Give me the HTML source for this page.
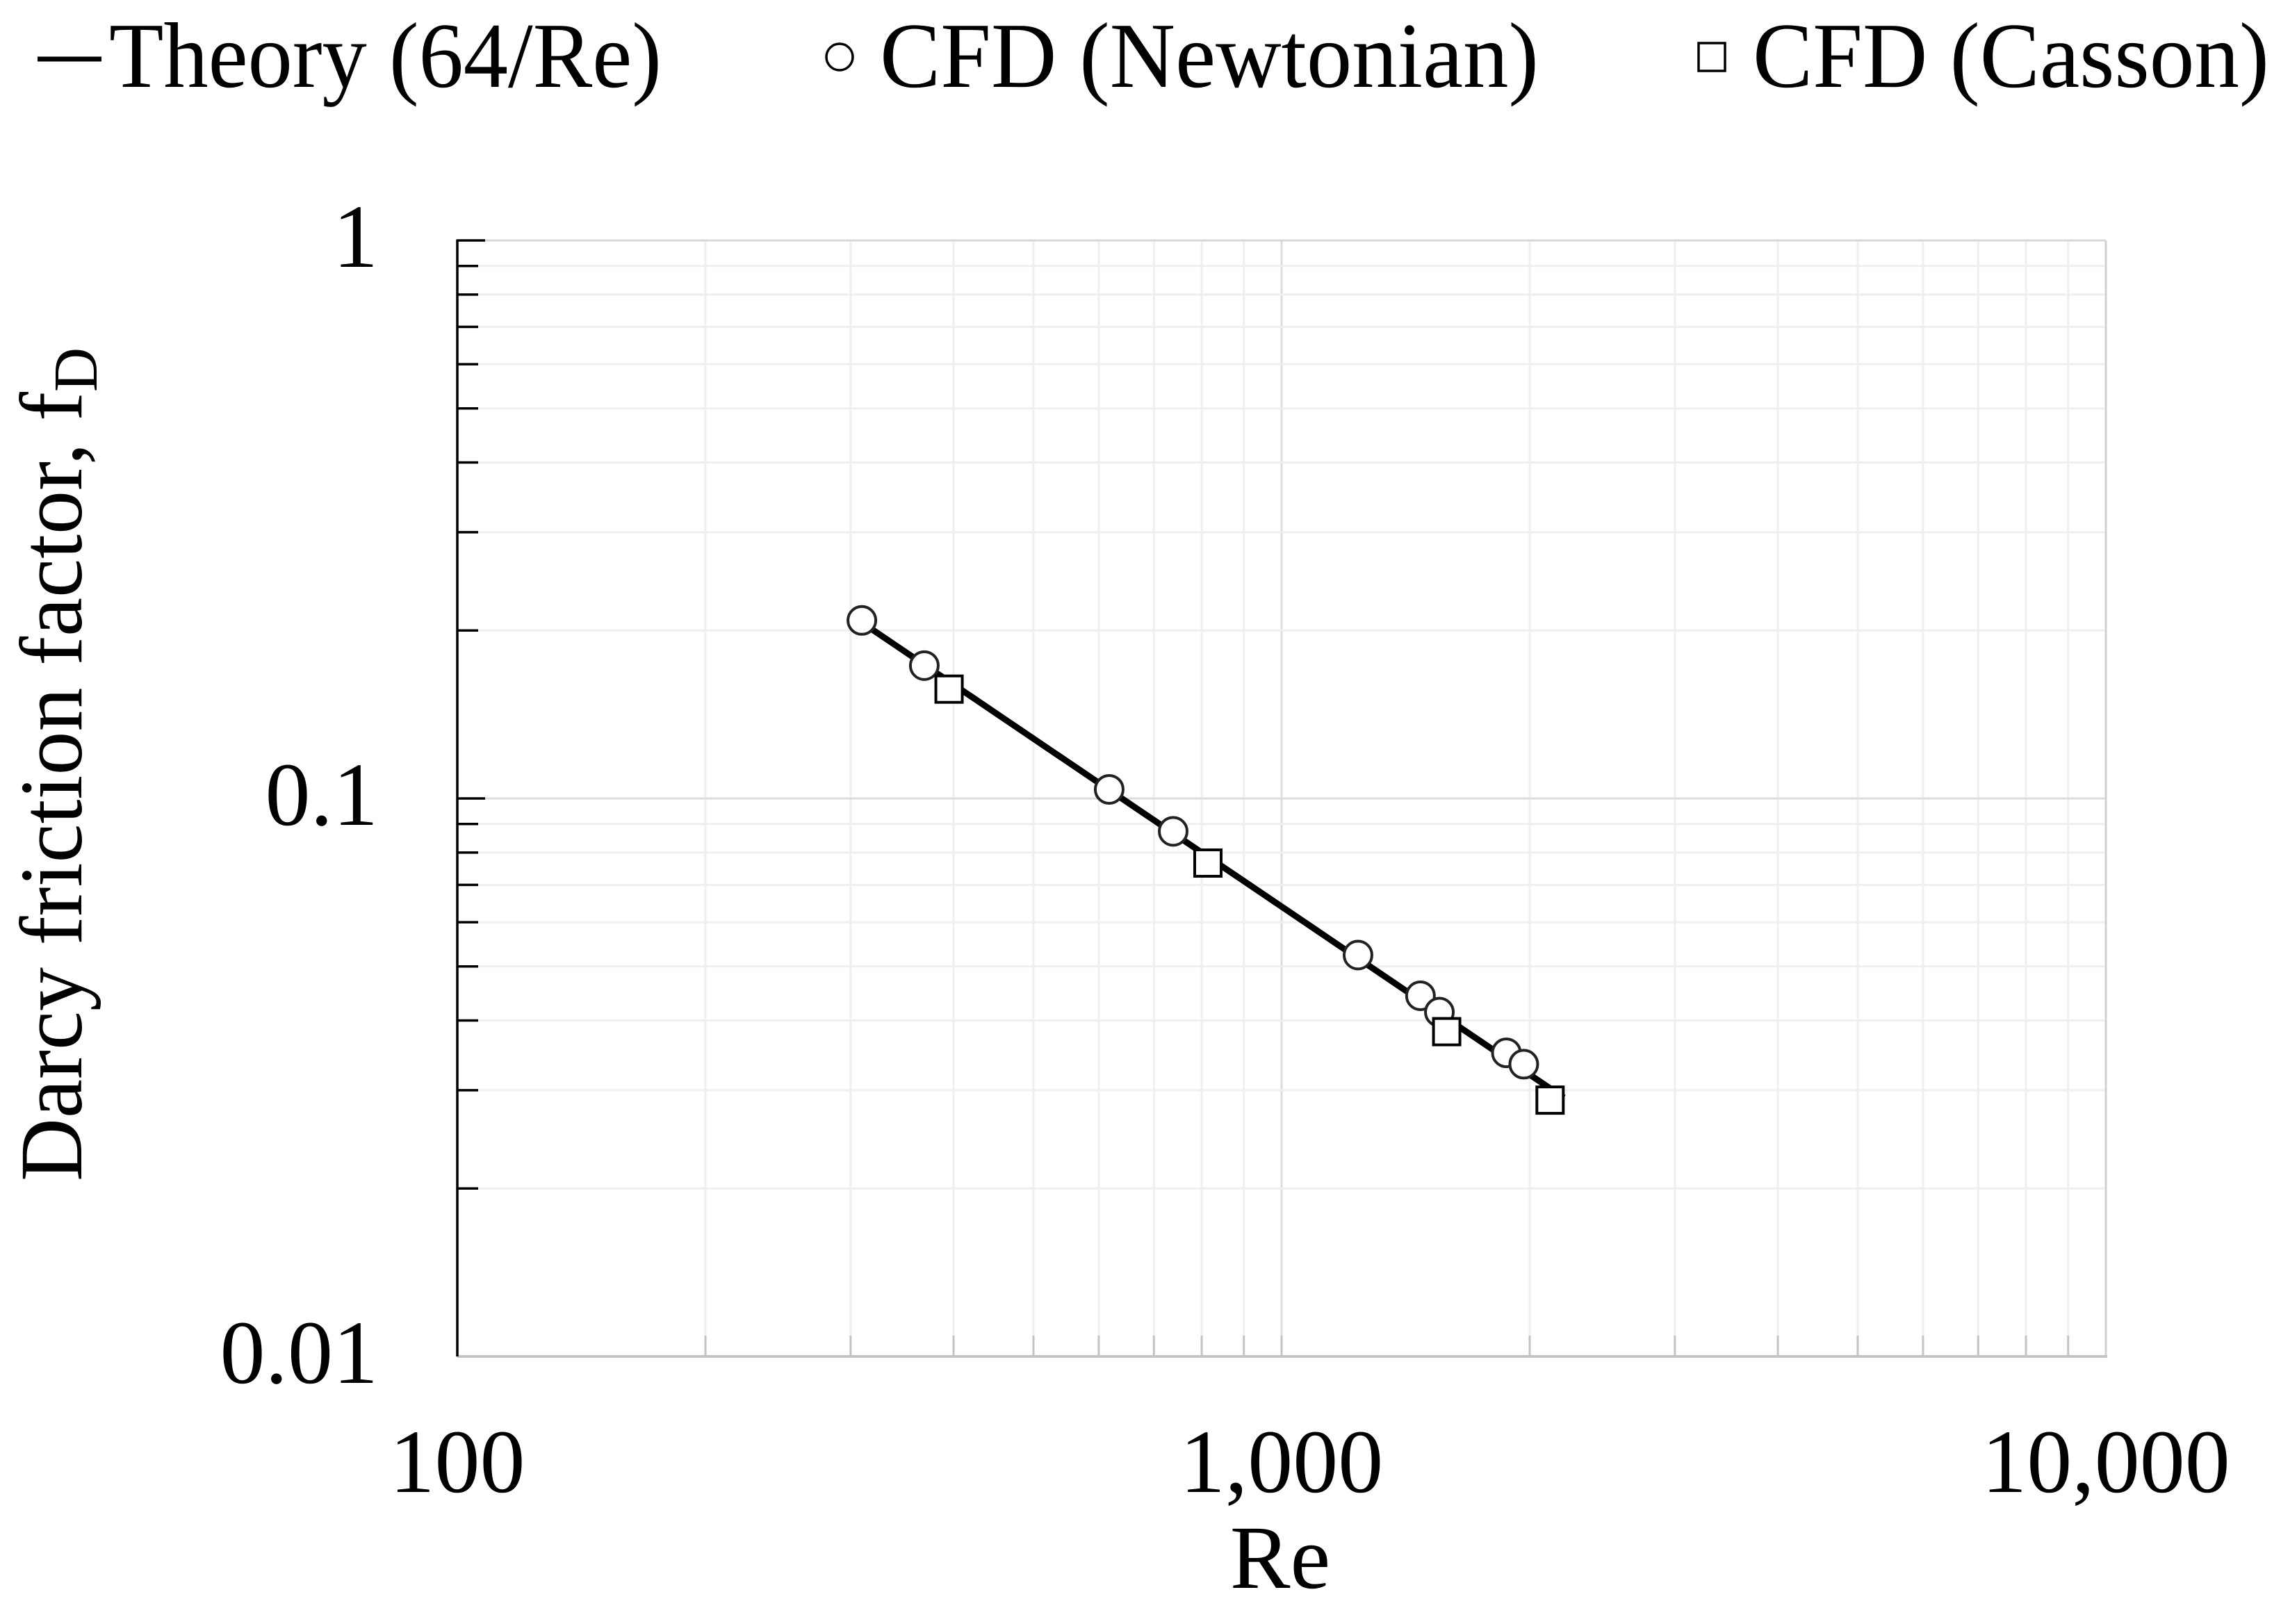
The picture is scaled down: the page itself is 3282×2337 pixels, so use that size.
<!DOCTYPE html>
<html><head><meta charset="utf-8"><style>
html,body{margin:0;padding:0;background:#fff;}
svg{display:block;font-family:"Liberation Serif",serif;}
</style></head><body>
<svg id="chart" width="3282" height="2337" viewBox="0 0 3282 2337" xmlns="http://www.w3.org/2000/svg">
<g id="grid"></g>
<g id="axes"></g>
<g id="series"></g>
<g id="legend">
  <line x1="54" y1="85" x2="146" y2="85" stroke="#000" stroke-width="7"/>
  <text x="157" y="125" font-size="134" textLength="795" lengthAdjust="spacingAndGlyphs">Theory (64/Re)</text>
  <circle cx="1208" cy="82" r="19" fill="#fff" stroke="#000" stroke-width="3.5"/>
  <text x="1266" y="125" font-size="134" textLength="948" lengthAdjust="spacingAndGlyphs">CFD (Newtonian)</text>
  <rect x="2444" y="62" width="38" height="40" fill="#fff" stroke="#000" stroke-width="3.5"/>
  <text x="2522" y="125" font-size="134" textLength="743" lengthAdjust="spacingAndGlyphs">CFD (Casson)</text>
</g>
<text x="1842" y="2285" font-size="130" text-anchor="middle">Re</text>
<text transform="translate(117,1100) rotate(-90)" font-size="128" text-anchor="middle" textLength="1200" lengthAdjust="spacingAndGlyphs">Darcy friction factor, f<tspan font-size="90" dy="22">D</tspan></text>
</svg>
<script>
const xTicks = [100, 1000, 10000];
const xTickLabels = ["100", "1,000", "10,000"];
const yTicks = [0.01, 0.1, 1];
const yTickLabels = ["0.01", "0.1", "1"];
const newtonianRe = [309.6, 368.6, 617.8, 738.7, 1238, 1474, 1554, 1874, 1967];
const newtonianF = [0.2085, 0.173, 0.1038, 0.0873, 0.0524, 0.0443, 0.0414, 0.035, 0.0334];
const cassonRe = [395, 814, 1586, 2117];
const cassonF = [0.157, 0.0766, 0.0382, 0.0288];
const theoryRange = [309, 2200];
const theoryCoef = [64];

const L=658, R=3030, T=346, B=1952;
function xs(v){return L+(Math.log10(v)-2)/2*(R-L);}
function ys(v){return T+(0-Math.log10(v))/2*(B-T);}
const NS="http://www.w3.org/2000/svg";
function mk(tag,attrs,parent){const e=document.createElementNS(NS,tag);for(const k in attrs)e.setAttribute(k,attrs[k]);parent.appendChild(e);return e;}
const grid=document.getElementById('grid'), axes=document.getElementById('axes'), series=document.getElementById('series');

for(let d=100; d<10000; d*=10){
  for(let m=1;m<=9;m++){
    const v=d*m; if(v<=100) continue;
    const x=xs(v);
    const g=mk('line',{x1:x,y1:T,x2:x,y2:B,stroke:m===1?'#dcdcdc':'#efefef','stroke-width':3},grid);
    
    
    const t=mk('line',{x1:x,y1:B,x2:x,y2:B-30,stroke:'#c4c4c4','stroke-width':3},axes);
    
    
  }
}
for(let d=0.01; d<1; d*=10){
  for(let m=1;m<=9;m++){
    const v=d*m; if(m===1 && d<0.015) continue;
    const y=ys(v);
    const g=mk('line',{x1:L,y1:y,x2:R,y2:y,stroke:m===1?'#dcdcdc':'#efefef','stroke-width':3},grid);
    
    
    const t=mk('line',{x1:L,y1:y,x2:L+(m===1?40:30),y2:y,stroke:'#000','stroke-width':3.5},axes);
    
    
  }
}
const topG=mk('line',{x1:L,y1:T,x2:R,y2:T,stroke:'#d8d8d8','stroke-width':3},grid);


const rightG=mk('line',{x1:R,y1:T,x2:R,y2:B,stroke:'#d0d0d0','stroke-width':3},grid);


const topTick=mk('line',{x1:L,y1:T,x2:L+40,y2:T,stroke:'#000','stroke-width':3.5},axes);


const xAx=mk('line',{x1:L,y1:B,x2:R+2,y2:B,stroke:'#c4c4c4','stroke-width':4},axes);


const yAx=mk('line',{x1:L,y1:T-1.5,x2:L,y2:B,stroke:'#000','stroke-width':3.5},axes);



xTicks.forEach((v,i)=>{
  const t=mk('text',{x:xs(v),y:2147,'font-size':130,'text-anchor':'middle'},axes);
  t.textContent=xTickLabels[i];
  
  
});
yTicks.forEach((v,i)=>{
  const t=mk('text',{x:544,y:ys(v)+38,'font-size':130,'text-anchor':'end'},axes);
  t.textContent=yTickLabels[i];
  
  
});

const ln=mk('line',{x1:xs(theoryRange[0]),y1:ys(theoryCoef[0]/theoryRange[0]),x2:xs(theoryRange[1]),y2:ys(theoryCoef[0]/theoryRange[1]),stroke:'#000','stroke-width':9},series);



newtonianRe.forEach((v,i)=>{
  const c=mk('circle',{cx:xs(v),cy:ys(newtonianF[i]),r:20,fill:'#fff',stroke:'#222','stroke-width':4},series);
  
  
});
cassonRe.forEach((v,i)=>{
  const s=mk('rect',{x:xs(v)-19,y:ys(cassonF[i])-19,width:38,height:38,fill:'#fff',stroke:'#000','stroke-width':4},series);
  
  
});
</script>
</body></html>
